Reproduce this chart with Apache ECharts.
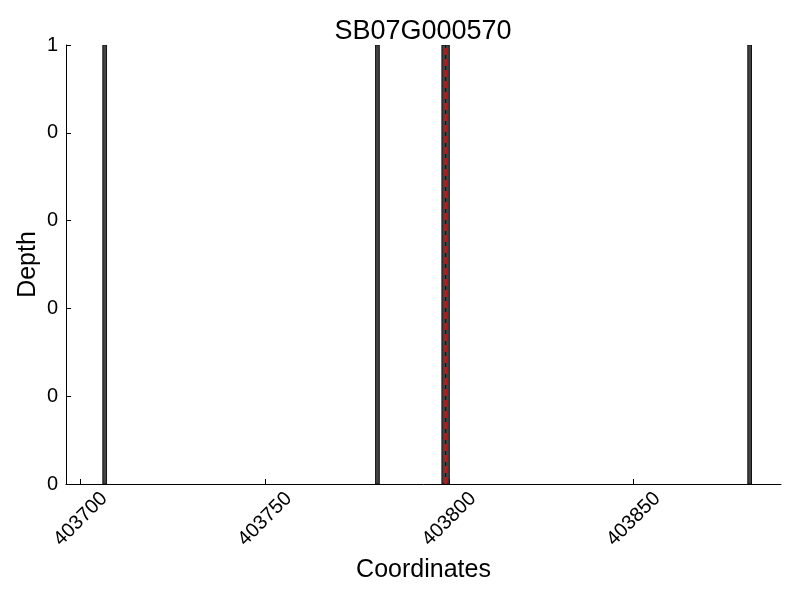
<!DOCTYPE html>
<html>
<head>
<meta charset="utf-8">
<script src="https://cdn.jsdelivr.net/npm/echarts@6/dist/echarts.min.js"></script>
<style>html,body{margin:0;padding:0;background:#fff}#c{width:800px;height:600px}</style>
</head>
<body>
<div id="c"></div>
<script>
const titleText = 'SB07G000570';
const positions = [403706, 403780, 403798, 403799, 403881];
const depths = [1, 1, 1, 1, 1];
const markerPos = 403799;
const xTicks = [403700, 403750, 403800, 403850];
const yTicks = [0, 0.2, 0.4, 0.6, 0.8, 1];

const font = 'Liberation Sans';
const chart = echarts.init(document.getElementById('c'), null, {renderer: 'canvas'});
const barData = positions.map((p, i) => [p, depths[i]]);

chart.setOption({
  animation: false,
  title: {text: titleText, left: 418, top: 13, textAlign: 'center',
    textStyle: {fontFamily: font, fontSize: 27, fontWeight: 'normal', color: '#000'}},
  grid: {left: 66, right: 19, top: 45, bottom: 116},
  xAxis: {
    type: 'value', min: 403696, max: 403890,
    name: 'Coordinates', nameLocation: 'middle', nameGap: 74,
    nameTextStyle: {fontFamily: font, fontSize: 25, color: '#000'},
    axisLine: {show: true, onZero: false, lineStyle: {color: '#000', width: 1}},
    axisTick: {show: true, inside: true, length: 5, lineStyle: {color: '#000'},
      customValues: xTicks},
    axisLabel: {rotate: 45, fontFamily: font, fontSize: 20, color: '#000', margin: 35,
      align: 'center', verticalAlign: 'middle',
      customValues: xTicks, hideOverlap: false,
      formatter: v => String(v)},
    splitLine: {show: false}
  },
  yAxis: {
    type: 'value', min: 0, max: 1, interval: 0.2,
    name: 'Depth', nameLocation: 'middle', nameGap: 25, nameMoveOverlap: false,
    nameTextStyle: {fontFamily: font, fontSize: 25, color: '#000'},
    axisLine: {show: true, lineStyle: {color: '#000', width: 1}},
    axisTick: {show: true, inside: true, length: 5, lineStyle: {color: '#000'},
      customValues: yTicks},
    axisLabel: {fontFamily: font, fontSize: 20, color: '#000', margin: 8,
      customValues: yTicks,
      formatter: v => String(Math.floor(v + 1e-9))},
    splitLine: {show: false}
  },
  series: [
    {
      type: 'custom',
      data: barData,
      clip: true,
      renderItem: function (params, api) {
        const x = api.value(0), y = api.value(1);
        const p0 = api.coord([x, 0]);
        const p1 = api.coord([x + 1, y]);
        return {
          type: 'rect',
          shape: {x: p0[0], y: p1[1], width: p1[0] - p0[0], height: p0[1] - p1[1]},
          style: {fill: '#444444', stroke: '#111111', lineWidth: 1}
        };
      },
      z: 2
    },
    {
      type: 'line',
      data: [[markerPos, 0], [markerPos, 1]],
      symbol: 'none',
      lineStyle: {color: '#ff0000', width: 2, type: [7, 4]},
      z: 3
    }
  ]
});
</script>
</body>
</html>
